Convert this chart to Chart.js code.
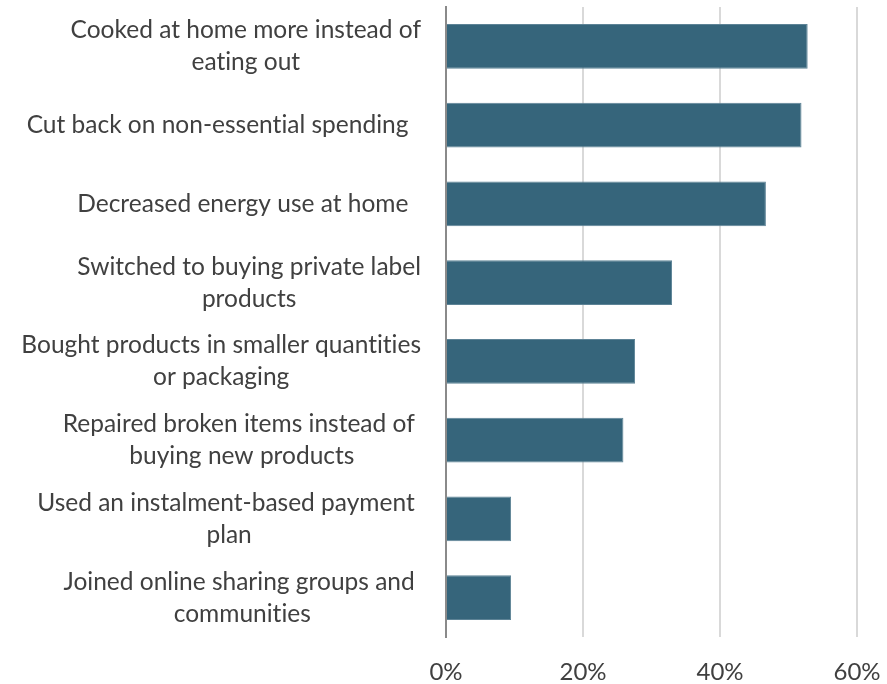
<!DOCTYPE html>
<html>
<head>
<meta charset="utf-8">
<script src="https://cdn.jsdelivr.net/npm/chart.js@4"></script>
<style>
  html, body { margin: 0; padding: 0; background: #ffffff; }
  #wrap { width: 887px; height: 684px; position: relative; }
</style>
</head>
<body>
<div id="wrap"><canvas id="c" width="887" height="684"></canvas></div>
<script>
const categories = [
  ["Cooked at home more instead of", "eating out"],
  ["Cut back on non-essential spending  "],
  ["Decreased energy use at home  "],
  ["Switched to buying private label", "products"],
  ["Bought products in smaller quantities", "or packaging"],
  ["Repaired broken items instead of ", "buying new products"],
  ["Used an instalment-based payment ", "plan"],
  ["Joined online sharing groups and ", "communities"]
];
const values = [52.8, 51.9, 46.7, 33.0, 27.6, 25.9, 9.5, 9.5];
const xTicks = [0, 20, 40, 60];

const FONT_FAMILY = "Lato, 'Open Sans', sans-serif";
const FONT_SIZE = 24.5;
const TEXT_COLOR = "#404040";

const labelPlugin = {
  id: 'blockLabels',
  afterDraw(chart) {
    const ctx = chart.ctx;
    const y = chart.scales.y;
    const right = chart.chartArea.left - 25;
    const lineH = 32;
    ctx.save();
    ctx.font = FONT_SIZE + "px " + FONT_FAMILY;
    try { ctx.textRendering = 'optimizeSpeed'; } catch (e) {}
    ctx.fillStyle = TEXT_COLOR;
    ctx.textBaseline = 'middle';
    ctx.textAlign = 'center';
    categories.forEach((lines, i) => {
      const cy = y.getPixelForValue(i);
      const w = Math.max(...lines.map(l => ctx.measureText(l).width));
      const cx = right - w / 2;
      const y0 = cy - (lines.length - 1) * lineH / 2;
      lines.forEach((l, j) => {
        ctx.fillText(l, cx, y0 + j * lineH);
      });
    });
    ctx.restore();
  }
};

new Chart(document.getElementById('c'), {
  type: 'bar',
  data: {
    labels: categories,
    datasets: [{
      data: values,
      backgroundColor: '#36657B',
      borderColor: '#5d8396',
      borderWidth: 1,
      categoryPercentage: 0.571,
      barPercentage: 1.0
    }]
  },
  plugins: [labelPlugin],
  options: {
    indexAxis: 'y',
    responsive: false,
    animation: false,
    layout: { padding: { top: 7, right: 30, left: 0, bottom: 0 } },
    plugins: { legend: { display: false }, tooltip: { enabled: false } },
    scales: {
      x: {
        min: 0, max: 60,
        afterBuildTicks: s => { s.ticks = xTicks.map(v => ({ value: v })); },
        afterFit: s => { s.height = 47; s.paddingLeft = 0; s.paddingRight = 0; },
        ticks: {
          callback: v => v + '%',
          font: { family: FONT_FAMILY, size: 24 },
          color: TEXT_COLOR,
          padding: 21,
          maxRotation: 0
        },
        grid: { color: '#d9d9d9', lineWidth: 2, drawTicks: false },
        border: { display: false }
      },
      y: {
        afterFit: s => { s.width = 446; s.paddingTop = 0; s.paddingBottom = 0; },
        ticks: { display: false },
        grid: { display: false, drawTicks: false },
        border: { display: true, color: '#8a8a8a', width: 2 }
      }
    }
  }
});
</script>
</body>
</html>
